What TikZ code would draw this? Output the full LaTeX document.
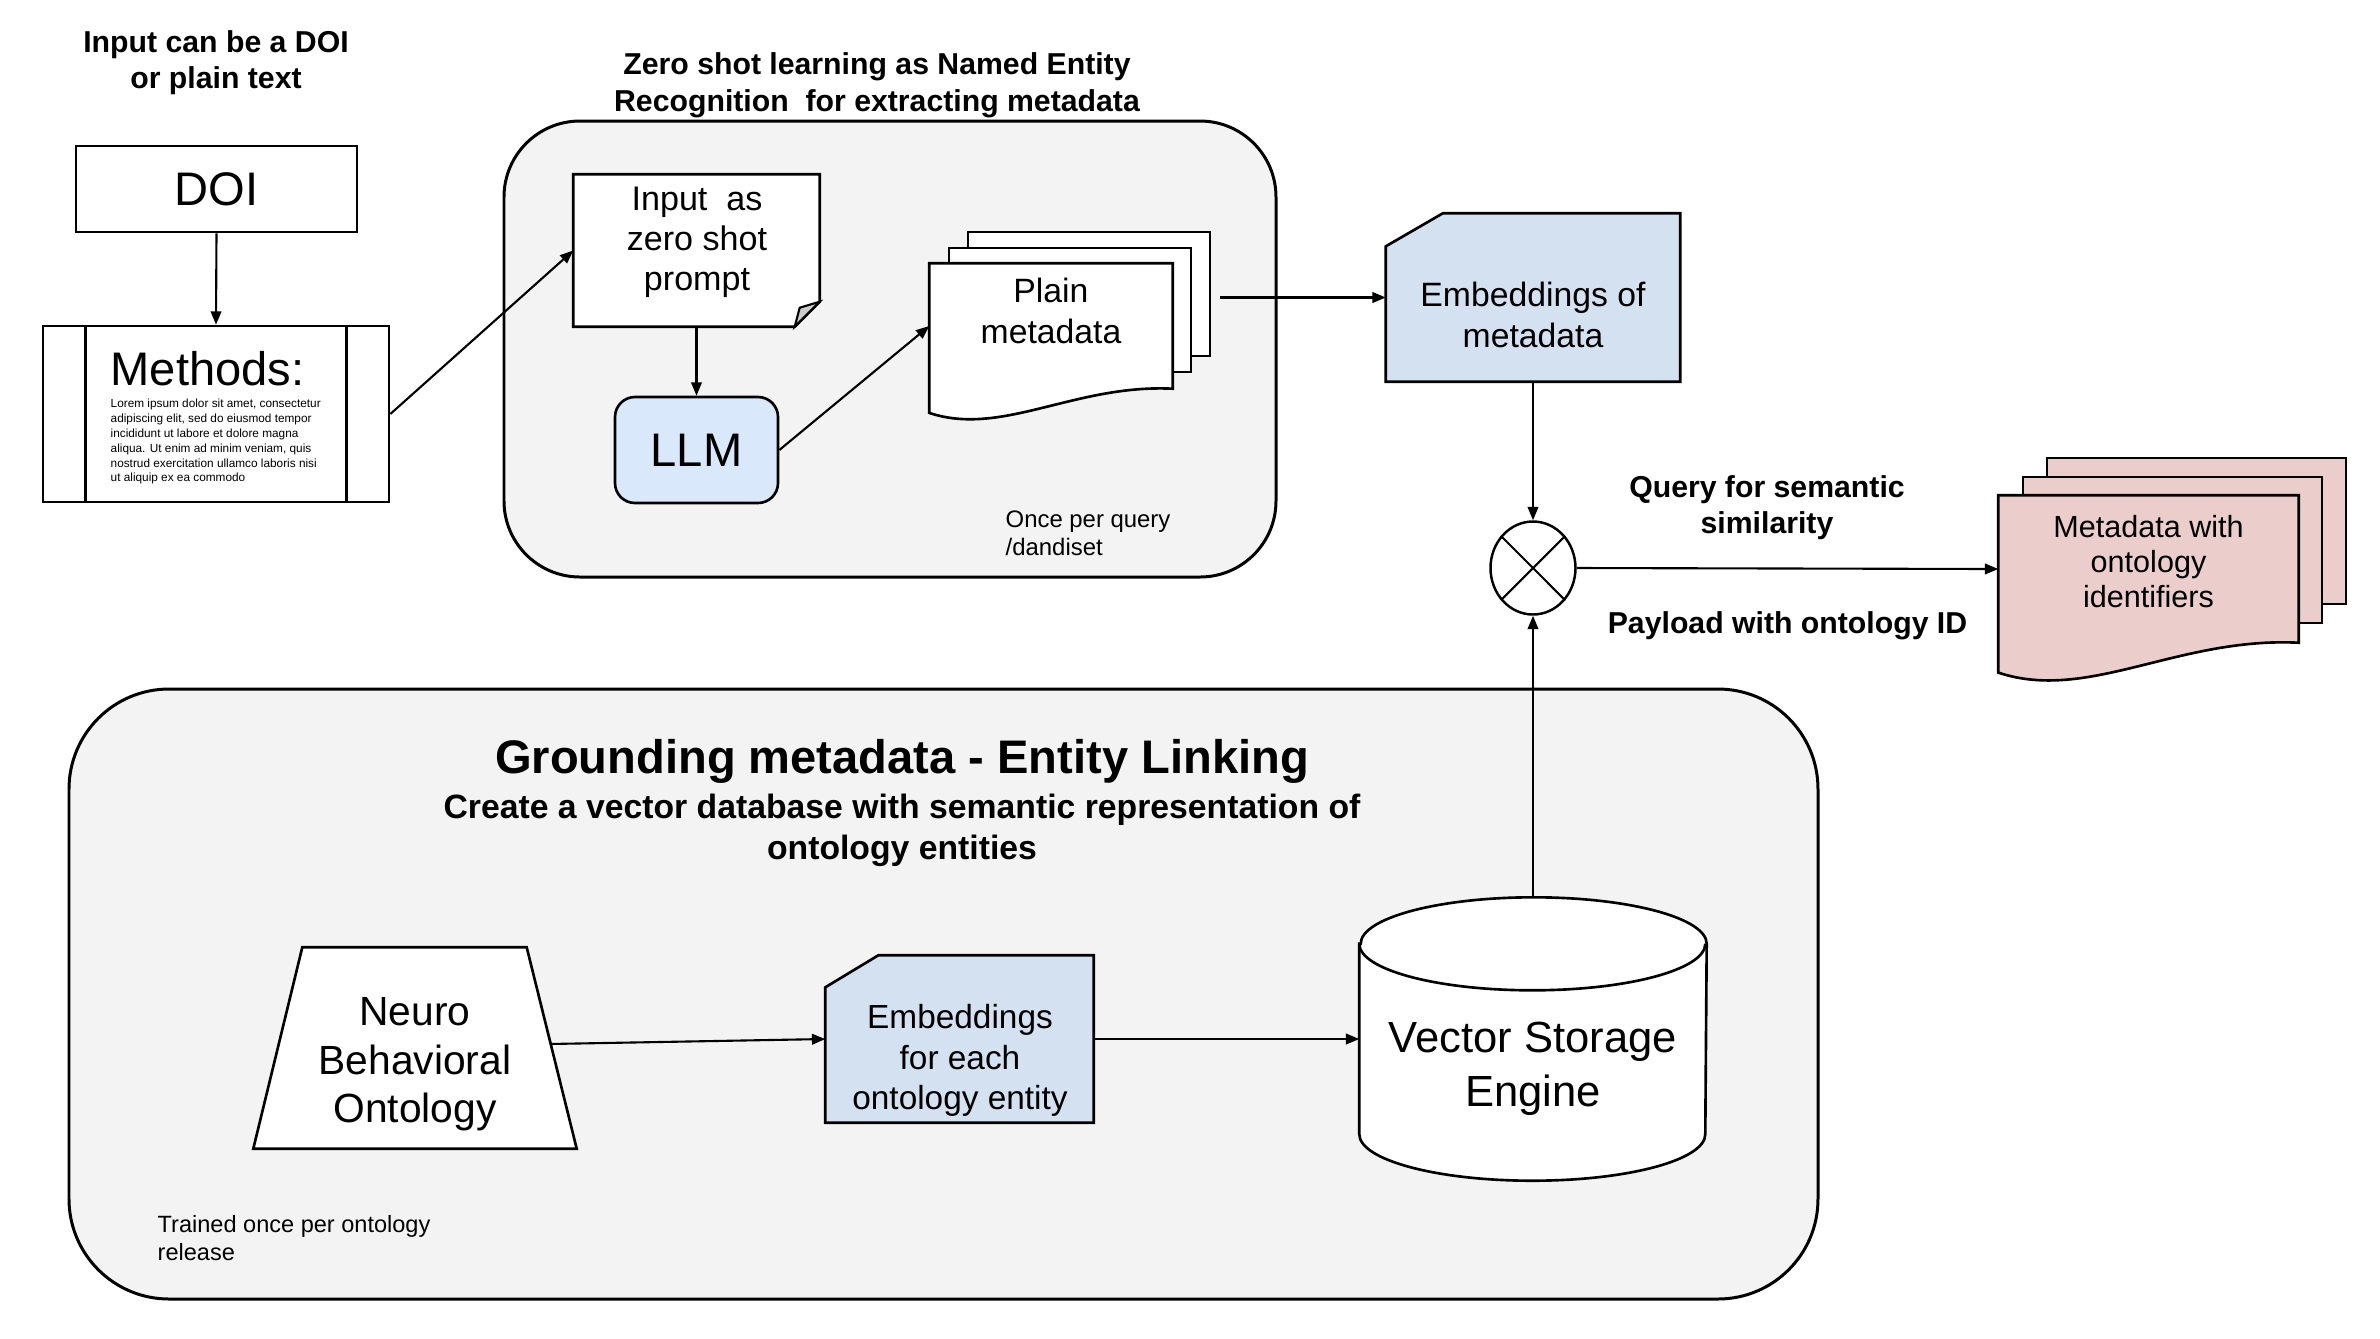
\documentclass[tikz,border=0pt]{standalone}
\usepackage{fontspec}
\setmainfont{Liberation Sans}
\usetikzlibrary{shapes.geometric}
\usetikzlibrary{arrows.meta}
\usetikzlibrary{calc}
\definecolor{panel}{HTML}{F3F3F3}
\definecolor{llmblue}{HTML}{DAE8FC}
\definecolor{embblue}{HTML}{D4E1F0}
\definecolor{metapink}{HTML}{EBCDCC}

\begin{document}
\begin{tikzpicture}[
    lbl/.style={font=\bfseries\fontsize{8.6}{10.4}\selectfont, align=center},
    txt/.style={font=\fontsize{9.6}{11.8}\selectfont, align=center},
    big/.style={font=\fontsize{13.4}{16}\selectfont},
    smalltxt/.style={font=\fontsize{6.8}{7.9}\selectfont, align=left, anchor=west, inner sep=0pt},
    shp/.style={draw, line width=0.75pt, fill=white, inner sep=0pt},
    blank/.style={inner sep=0pt},
    panelbox/.style={draw, line width=0.85pt, fill=panel},
    conn/.style={-{Triangle[length=3.8pt,width=3pt]}, line width=0.6pt}
]
    \useasboundingbox (0,0) rectangle (23.8,-13.38);

    \node[panelbox, rounded corners=0.76cm, minimum width=7.72cm, minimum height=4.56cm] (zspanel) at (8.90,-3.49) {};
    \node[panelbox, rounded corners=1cm, minimum width=17.49cm, minimum height=6.10cm] (glpanel) at (9.435,-9.94) {};

    \node[lbl] (inlbl) at (2.16,-0.625) {Input can be a DOI\\or plain text};
    \node[lbl] (zstitle) at (8.77,-0.855) {Zero shot learning as Named Entity\\Recognition\ \ for extracting metadata};

    % input side
    \node[shp, big, minimum width=2.81cm, minimum height=0.86cm] (doi) at (2.165,-1.89) {DOI};
    \node[shp, minimum width=3.46cm, minimum height=1.76cm] (methods) at (2.16,-4.14) {};
    \draw[line width=0.75pt] ([xshift=0.44cm]methods.north west) -- ([xshift=0.44cm]methods.south west);
    \draw[line width=0.75pt] ([xshift=-0.44cm]methods.north east) -- ([xshift=-0.44cm]methods.south east);
    \node[big, anchor=base west, inner sep=0pt] (mhead) at (1.10,-3.85) {Methods:};
    \node[anchor=north west, align=left, inner sep=0pt, font=\fontsize{3.36}{4.25}\selectfont] (lorem) at (1.10,-3.98)
        {Lorem ipsum dolor sit amet, consectetur\\adipiscing elit, sed do eiusmod tempor\\incididunt ut labore et dolore magna\\aliqua. Ut enim ad minim veniam, quis\\nostrud exercitation ullamco laboris nisi\\ut aliquip ex ea commodo};

    % zero shot part
    \node[blank, minimum width=2.45cm, minimum height=1.51cm] (prompt) at (6.965,-2.505) {};
    \draw[line width=0.75pt, fill=white] (prompt.north west) -- (prompt.north east) -- ([yshift=0.25cm]prompt.south east)
        -- ([xshift=-0.25cm]prompt.south east) -- (prompt.south west) -- cycle;
    \filldraw[line width=0.6pt, fill=black!20] ([xshift=-0.25cm]prompt.south east) -- ([xshift=-0.2cm,yshift=0.19cm]prompt.south east)
        -- ([yshift=0.25cm]prompt.south east) -- cycle;
    \node[txt, font=\fontsize{9.7}{11.4}\selectfont] (prompttxt) at (6.97,-2.425) {Input\ \ as\\zero shot\\prompt};

    \node[shp, big, fill=llmblue, rounded corners=0.2cm, minimum width=1.63cm, minimum height=1.06cm] (llm) at (6.965,-4.50) {LLM};

    \node[blank, minimum width=2.42cm, minimum height=1.24cm] (plain) at (10.51,-3.26) {};
    \node[shp, minimum width=2.42cm, minimum height=1.24cm] (plainback) at ($(plain)+(0.38,0.32)$) {};
    \node[shp, minimum width=2.42cm, minimum height=1.24cm] (plainmid) at ($(plain)+(0.19,0.16)$) {};
    \draw[line width=0.75pt, fill=white] (plain.north west) -- (plain.north east) -- (plain.south east)
        .. controls ($(plain.south west)+(1.452,0.048)$) and ($(plain.south west)+(0.726,-0.484)$)
        .. ($(plain.south west)+(0,-0.242)$) -- cycle;
    \node[txt] (plaintxt) at (10.51,-3.11) {Plain\\metadata};

    \node[smalltxt] (oncelbl) at (10.05,-5.335) {Once per query\\/dandiset};

    % right side
    \node[blank, minimum width=2.93cm, minimum height=1.67cm] (embmeta) at (15.33,-2.975) {};
    \draw[line width=0.75pt, fill=embblue] ([yshift=-0.33cm]embmeta.north west) -- ([xshift=0.57cm]embmeta.north west)
        -- (embmeta.north east) -- (embmeta.south east) -- (embmeta.south west) -- cycle;
    \node[txt] (embmetatxt) at (15.33,-3.15) {Embeddings of\\metadata};

    \node[shp, ellipse, minimum width=0.85cm, minimum height=0.93cm, line width=0.7pt] (xmark) at (15.33,-5.68) {};
    \draw[line width=0.6pt] (xmark.45) -- (xmark.225);
    \draw[line width=0.6pt] (xmark.135) -- (xmark.315);

    \node[lbl] (querylbl) at (17.67,-5.075) {Query for semantic\\similarity};
    \node[lbl] (paylbl) at (17.875,-6.26) {Payload with ontology ID};

    \node[blank, minimum width=2.99cm, minimum height=1.46cm] (meta) at (21.485,-5.69) {};
    \node[shp, fill=metapink, minimum width=2.99cm, minimum height=1.46cm] (metaback) at ($(meta)+(0.48,0.38)$) {};
    \node[shp, fill=metapink, minimum width=2.99cm, minimum height=1.46cm] (metamid) at ($(meta)+(0.24,0.19)$) {};
    \draw[line width=0.75pt, fill=metapink] (meta.north west) -- (meta.north east) -- (meta.south east)
        .. controls ($(meta.south west)+(1.794,0.06)$) and ($(meta.south west)+(0.897,-0.598)$)
        .. ($(meta.south west)+(0,-0.299)$) -- cycle;
    \node[txt, font=\fontsize{8.7}{10}\selectfont] (metatxt) at (21.485,-5.615) {Metadata with\\ontology\\identifiers};

    % grounding part
    \node[font=\bfseries\fontsize{13.4}{16}\selectfont] (gltitle) at (9.02,-7.615) {Grounding metadata - Entity Linking};
    \node[font=\bfseries\fontsize{9.6}{11.7}\selectfont, align=center] (glsub) at (9.02,-8.30)
        {Create a vector database with semantic representation of\\ontology entities};

    \node[blank, minimum width=3.22cm, minimum height=2.00cm] (nbo) at (4.15,-10.48) {};
    \draw[line width=0.75pt, fill=white] (nbo.south west) -- ([xshift=0.49cm]nbo.north west)
        -- ([xshift=-0.50cm]nbo.north east) -- (nbo.south east) -- cycle;
    \coordinate (nboE) at ($([xshift=-0.50cm]nbo.north east)!0.48!(nbo.south east)$);
    \node[txt, font=\fontsize{11.6}{13.8}\selectfont] (nbotxt) at (4.15,-10.645) {Neuro\\Behavioral\\Ontology};

    \node[blank, minimum width=2.67cm, minimum height=1.66cm] (embeach) at (9.595,-10.39) {};
    \draw[line width=0.75pt, fill=embblue] ([yshift=-0.32cm]embeach.north west) -- ([xshift=0.53cm]embeach.north west)
        -- (embeach.north east) -- (embeach.south east) -- (embeach.south west) -- cycle;
    \node[txt, font=\fontsize{9.5}{11.6}\selectfont] (embeachtxt) at (9.60,-10.605) {Embeddings\\for each\\ontology entity};

    \node[blank, minimum width=3.46cm, minimum height=2.82cm] (vse) at (15.33,-10.39) {};
    \draw[line width=0.75pt, fill=white] ([yshift=-0.465cm]vse.north west) -- ([yshift=0.465cm]vse.south west)
        arc[start angle=180, end angle=360, x radius=1.73cm, y radius=0.465cm]
        -- ([yshift=-0.465cm]vse.north east)
        arc[start angle=0, end angle=180, x radius=1.73cm, y radius=0.465cm] -- cycle;
    \draw[line width=0.75pt] ([yshift=-0.465cm]vse.north west)
        arc[start angle=180, end angle=360, x radius=1.73cm, y radius=0.465cm];
    \node[txt, font=\fontsize{12.4}{15.4}\selectfont] (vsetxt) at (15.33,-10.685) {Vector Storage\\Engine};

    \node[smalltxt, font=\fontsize{6.7}{8}\selectfont] (trainlbl) at (1.57,-12.38) {Trained once per ontology\\release};

    % connectors
    \draw[conn] (doi.south) -- (methods.north);
    \draw[conn] (methods.east) -- (prompt.west);
    \draw[conn] (prompt.south) -- (llm.north);
    \draw[conn] (llm.east) -- (plain.west);
    \draw[conn] ([xshift=0.09cm]plainback.east |- embmeta.west) -- (embmeta.west);
    \draw[conn] (embmeta.south) -- (xmark.north);
    \draw[conn] (xmark.east) -- (meta.west);
    \draw[conn] (vse.north) -- (xmark.south);
    \draw[conn] (nboE) -- (embeach.west);
    \draw[conn] (embeach.east) -- (vse.west);
\end{tikzpicture}
\end{document}
